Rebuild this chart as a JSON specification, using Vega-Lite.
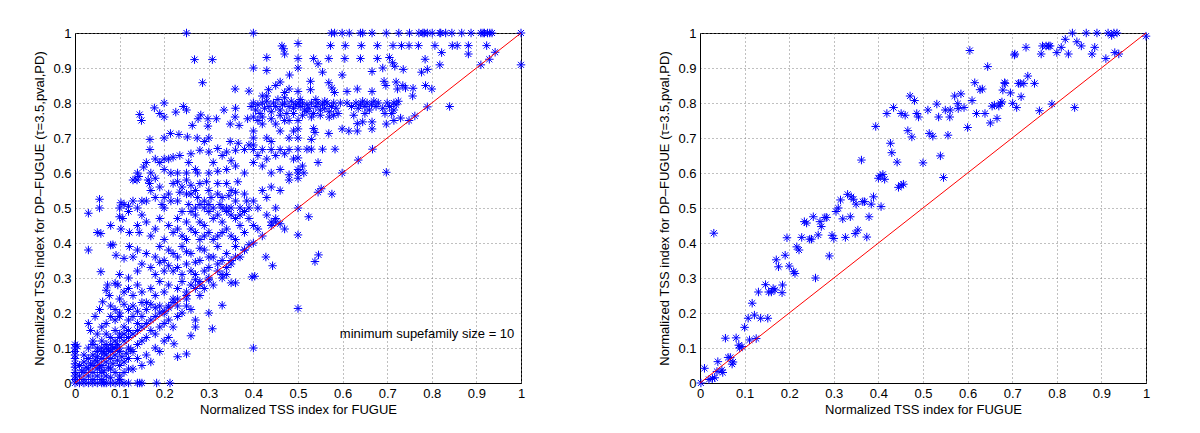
{
"$schema": "https://vega.github.io/schema/vega-lite/v6.json",
"background": "white",
"padding": {"left": 33, "top": 26, "right": 5, "bottom": 5},
"config": {
 "view": {"stroke": "black", "strokeWidth": 1},
 "font": "Liberation Sans",
 "axis": {"labelFont": "Liberation Sans", "titleFont": "Liberation Sans", "labelFontSize": 13, "titleFontSize": 13, "titleFontWeight": "normal", "labelColor": "black", "titleColor": "black", "domainColor": "black", "ticks": false, "gridColor": "#808080", "gridDash": [1, 3], "gridOpacity": 1, "labelFlush": false, "labelOverlap": false, "labelPadding": 4, "tickCount": 12},
 "concat": {"spacing": 130}
},
"datasets": {
 "D": [{"x": 0, "y": 0}, {"x": 1, "y": 1}],
 "T": [{"x": 0.985, "y": 0.14, "label": "minimum supefamily size = 10"}],
 "L": [
{"x":0.25,"y":1},{"x":0.4,"y":1},{"x":0.575,"y":1},{"x":0.582,"y":1},{"x":0.599,"y":1},{"x":0.615,"y":1},{"x":0.64,"y":1},{"x":0.645,"y":1},{"x":0.666,"y":1},{"x":0.698,"y":1},{"x":0.726,"y":1},{"x":0.75,"y":1},{"x":0.771,"y":1},{"x":0.78,"y":1},{"x":0.783,"y":1},{"x":0.79,"y":1},{"x":0.801,"y":1},{"x":0.818,"y":1},{"x":0.82,"y":1},{"x":0.831,"y":1},{"x":0.845,"y":1},{"x":0.867,"y":1},{"x":0.888,"y":1},{"x":0.91,"y":1},{"x":0.915,"y":1},{"x":0.918,"y":1},{"x":0.925,"y":1},{"x":0.93,"y":1},{"x":0.935,"y":1},{"x":1,"y":1},
{"x":0.464,"y":0.963},{"x":0.468,"y":0.955},{"x":0.47,"y":0.94},{"x":0.5,"y":0.97},{"x":0.573,"y":0.964},{"x":0.606,"y":0.964},{"x":0.642,"y":0.964},{"x":0.678,"y":0.964},{"x":0.713,"y":0.964},{"x":0.732,"y":0.964},{"x":0.749,"y":0.964},{"x":0.77,"y":0.964},{"x":0.807,"y":0.964},{"x":0.846,"y":0.964},{"x":0.857,"y":0.964},{"x":0.882,"y":0.964},{"x":0.923,"y":0.964},
{"x":0.268,"y":0.924},{"x":0.308,"y":0.924},{"x":0.43,"y":0.93},{"x":0.5,"y":0.927},{"x":0.535,"y":0.927},{"x":0.569,"y":0.927},{"x":0.605,"y":0.927},{"x":0.64,"y":0.927},{"x":0.678,"y":0.927},{"x":0.705,"y":0.93},{"x":0.712,"y":0.915},{"x":0.717,"y":0.905},{"x":0.785,"y":0.925},{"x":0.822,"y":0.944},{"x":0.882,"y":0.94},{"x":0.942,"y":0.945},{"x":0.929,"y":0.925},
{"x":0.4,"y":0.9},{"x":0.43,"y":0.893},{"x":0.5,"y":0.9},{"x":0.481,"y":0.88},{"x":0.545,"y":0.912},{"x":0.555,"y":0.888},{"x":0.599,"y":0.88},{"x":0.666,"y":0.89},{"x":0.69,"y":0.9},{"x":0.736,"y":0.896},{"x":0.777,"y":0.888},{"x":0.79,"y":0.896},{"x":0.818,"y":0.909},{"x":0.91,"y":0.909},{"x":1,"y":0.909},
{"x":0.286,"y":0.858},{"x":0.359,"y":0.84},{"x":0.39,"y":0.834},{"x":0.434,"y":0.838},{"x":0.48,"y":0.84},{"x":0.5,"y":0.833},{"x":0.528,"y":0.862},{"x":0.528,"y":0.838},{"x":0.569,"y":0.858},{"x":0.576,"y":0.843},{"x":0.582,"y":0.83},{"x":0.61,"y":0.833},{"x":0.633,"y":0.84},{"x":0.666,"y":0.833},{"x":0.693,"y":0.862},{"x":0.697,"y":0.85},{"x":0.72,"y":0.86},{"x":0.723,"y":0.84},{"x":0.735,"y":0.85},{"x":0.741,"y":0.843},{"x":0.758,"y":0.842},{"x":0.757,"y":0.82},{"x":0.786,"y":0.85},{"x":0.8,"y":0.84},{"x":0.45,"y":0.85},{"x":0.46,"y":0.86},{"x":0.47,"y":0.83},{"x":0.42,"y":0.82},
{"x":0.395,"y":0.79},{"x":0.4,"y":0.8},{"x":0.405,"y":0.78},{"x":0.41,"y":0.795},{"x":0.415,"y":0.77},{"x":0.42,"y":0.8},{"x":0.425,"y":0.785},{"x":0.43,"y":0.805},{"x":0.435,"y":0.79},{"x":0.44,"y":0.775},{"x":0.445,"y":0.8},{"x":0.45,"y":0.79},{"x":0.455,"y":0.81},{"x":0.46,"y":0.78},{"x":0.465,"y":0.795},{"x":0.47,"y":0.8},{"x":0.475,"y":0.77},{"x":0.48,"y":0.79},{"x":0.485,"y":0.805},{"x":0.49,"y":0.785},{"x":0.495,"y":0.795},{"x":0.5,"y":0.8},{"x":0.4,"y":0.76},{"x":0.42,"y":0.76},{"x":0.46,"y":0.765},{"x":0.49,"y":0.77},{"x":0.43,"y":0.82},{"x":0.47,"y":0.815},{"x":0.44,"y":0.755},{"x":0.48,"y":0.75},
{"x":0.505,"y":0.79},{"x":0.51,"y":0.8},{"x":0.515,"y":0.78},{"x":0.52,"y":0.795},{"x":0.525,"y":0.785},{"x":0.53,"y":0.8},{"x":0.535,"y":0.77},{"x":0.54,"y":0.79},{"x":0.545,"y":0.8},{"x":0.55,"y":0.78},{"x":0.555,"y":0.795},{"x":0.56,"y":0.785},{"x":0.565,"y":0.8},{"x":0.57,"y":0.775},{"x":0.575,"y":0.79},{"x":0.58,"y":0.8},{"x":0.585,"y":0.785},{"x":0.59,"y":0.77},{"x":0.595,"y":0.8},{"x":0.51,"y":0.765},{"x":0.53,"y":0.76},{"x":0.55,"y":0.765},{"x":0.57,"y":0.76},{"x":0.505,"y":0.81},{"x":0.54,"y":0.81},{"x":0.52,"y":0.775},{"x":0.56,"y":0.805},{"x":0.58,"y":0.765},
{"x":0.61,"y":0.8},{"x":0.62,"y":0.79},{"x":0.63,"y":0.8},{"x":0.635,"y":0.785},{"x":0.64,"y":0.795},{"x":0.645,"y":0.805},{"x":0.65,"y":0.79},{"x":0.655,"y":0.8},{"x":0.66,"y":0.78},{"x":0.665,"y":0.795},{"x":0.67,"y":0.805},{"x":0.675,"y":0.79},{"x":0.68,"y":0.8},{"x":0.69,"y":0.785},{"x":0.7,"y":0.8},{"x":0.705,"y":0.79},{"x":0.715,"y":0.8},{"x":0.72,"y":0.795},{"x":0.725,"y":0.805},{"x":0.695,"y":0.77},{"x":0.71,"y":0.77},{"x":0.715,"y":0.78},{"x":0.65,"y":0.77},{"x":0.625,"y":0.765},
{"x":0.5,"y":0.75},{"x":0.5,"y":0.726},{"x":0.535,"y":0.727},{"x":0.538,"y":0.716},{"x":0.569,"y":0.713},{"x":0.599,"y":0.726},{"x":0.614,"y":0.72},{"x":0.633,"y":0.72},{"x":0.633,"y":0.741},{"x":0.645,"y":0.746},{"x":0.666,"y":0.746},{"x":0.666,"y":0.726},{"x":0.698,"y":0.74},{"x":0.715,"y":0.75},{"x":0.73,"y":0.757},{"x":0.762,"y":0.763},{"x":0.749,"y":0.75},{"x":0.79,"y":0.789},{"x":0.84,"y":0.79},
{"x":0.334,"y":0.78},{"x":0.36,"y":0.785},{"x":0.348,"y":0.74},{"x":0.368,"y":0.736},{"x":0.359,"y":0.76},{"x":0.387,"y":0.755},{"x":0.4,"y":0.72},{"x":0.41,"y":0.75},{"x":0.42,"y":0.74},{"x":0.45,"y":0.74},{"x":0.46,"y":0.72},{"x":0.47,"y":0.75},{"x":0.145,"y":0.767},{"x":0.149,"y":0.75},{"x":0.19,"y":0.77},{"x":0.2,"y":0.76},{"x":0.2,"y":0.8},{"x":0.178,"y":0.786},{"x":0.226,"y":0.774},{"x":0.243,"y":0.79},{"x":0.25,"y":0.78},{"x":0.276,"y":0.755},{"x":0.282,"y":0.766},{"x":0.298,"y":0.755},{"x":0.317,"y":0.755},{"x":0.298,"y":0.734},{"x":0.263,"y":0.736},{"x":0.168,"y":0.696},{"x":0.2,"y":0.7},{"x":0.214,"y":0.713},{"x":0.233,"y":0.71},{"x":0.252,"y":0.703},{"x":0.274,"y":0.7},{"x":0.3,"y":0.7},{"x":0.348,"y":0.69},{"x":0.366,"y":0.685},{"x":0.4,"y":0.7},{"x":0.4,"y":0.68},{"x":0.43,"y":0.7},{"x":0.44,"y":0.69},{"x":0.48,"y":0.7},{"x":0.49,"y":0.72},
{"x":0.168,"y":0.667},{"x":0.154,"y":0.617},{"x":0.2,"y":0.64},{"x":0.21,"y":0.64},{"x":0.19,"y":0.63},{"x":0.22,"y":0.645},{"x":0.235,"y":0.65},{"x":0.26,"y":0.655},{"x":0.28,"y":0.665},{"x":0.29,"y":0.69},{"x":0.3,"y":0.66},{"x":0.32,"y":0.67},{"x":0.33,"y":0.65},{"x":0.34,"y":0.66},{"x":0.36,"y":0.665},{"x":0.38,"y":0.667},{"x":0.4,"y":0.667},{"x":0.42,"y":0.667},{"x":0.44,"y":0.667},{"x":0.46,"y":0.667},{"x":0.48,"y":0.667},{"x":0.39,"y":0.68},{"x":0.41,"y":0.65},{"x":0.43,"y":0.64},{"x":0.45,"y":0.65},{"x":0.47,"y":0.655},{"x":0.49,"y":0.64},{"x":0.35,"y":0.635},{"x":0.36,"y":0.62},{"x":0.4,"y":0.63},{"x":0.42,"y":0.62},{"x":0.44,"y":0.6},{"x":0.46,"y":0.61},{"x":0.48,"y":0.595},{"x":0.5,"y":0.6},{"x":0.3,"y":0.6},{"x":0.27,"y":0.61},{"x":0.25,"y":0.6},{"x":0.23,"y":0.6},{"x":0.215,"y":0.6},{"x":0.2,"y":0.61},{"x":0.18,"y":0.585},{"x":0.143,"y":0.59},{"x":0.139,"y":0.58},{"x":0.164,"y":0.58},{"x":0.167,"y":0.57},{"x":0.31,"y":0.63},{"x":0.32,"y":0.605},{"x":0.34,"y":0.61},{"x":0.38,"y":0.6},{"x":0.275,"y":0.6},{"x":0.255,"y":0.63},
{"x":0.5,"y":0.7},{"x":0.53,"y":0.696},{"x":0.5,"y":0.668},{"x":0.52,"y":0.668},{"x":0.53,"y":0.668},{"x":0.555,"y":0.668},{"x":0.583,"y":0.668},{"x":0.667,"y":0.668},{"x":0.5,"y":0.643},{"x":0.545,"y":0.63},{"x":0.51,"y":0.62},{"x":0.5,"y":0.61},{"x":0.513,"y":0.6},{"x":0.5,"y":0.585},{"x":0.599,"y":0.6},{"x":0.635,"y":0.637},{"x":0.698,"y":0.602},{"x":0.545,"y":0.545},{"x":0.552,"y":0.555},{"x":0.576,"y":0.54},{"x":0.524,"y":0.475},{"x":0.538,"y":0.347},{"x":0.546,"y":0.366},{"x":0.5,"y":0.5},{"x":0.5,"y":0.423},{"x":0.5,"y":0.213},
{"x":0.1,"y":0.5},{"x":0.103,"y":0.515},{"x":0.12,"y":0.505},{"x":0.13,"y":0.52},{"x":0.14,"y":0.5},{"x":0.16,"y":0.52},{"x":0.17,"y":0.55},{"x":0.18,"y":0.53},{"x":0.19,"y":0.56},{"x":0.2,"y":0.5},{"x":0.21,"y":0.54},{"x":0.22,"y":0.57},{"x":0.23,"y":0.52},{"x":0.24,"y":0.56},{"x":0.25,"y":0.58},{"x":0.26,"y":0.54},{"x":0.27,"y":0.5},{"x":0.28,"y":0.57},{"x":0.29,"y":0.52},{"x":0.3,"y":0.55},{"x":0.31,"y":0.5},{"x":0.32,"y":0.57},{"x":0.33,"y":0.53},{"x":0.34,"y":0.5},{"x":0.35,"y":0.55},{"x":0.36,"y":0.52},{"x":0.37,"y":0.5},{"x":0.38,"y":0.54},{"x":0.39,"y":0.5},{"x":0.4,"y":0.52},{"x":0.41,"y":0.5},{"x":0.42,"y":0.55},{"x":0.44,"y":0.56},{"x":0.46,"y":0.55},{"x":0.48,"y":0.58},{"x":0.195,"y":0.51},{"x":0.215,"y":0.52},{"x":0.235,"y":0.545},{"x":0.255,"y":0.51},{"x":0.275,"y":0.53},{"x":0.295,"y":0.575},{"x":0.305,"y":0.53},{"x":0.325,"y":0.51},{"x":0.345,"y":0.535},{"x":0.365,"y":0.575},{"x":0.385,"y":0.52},{"x":0.27,"y":0.55},{"x":0.28,"y":0.51},{"x":0.3,"y":0.51},{"x":0.32,"y":0.54},{"x":0.34,"y":0.57},{"x":0.36,"y":0.545},{"x":0.25,"y":0.54},{"x":0.23,"y":0.575},{"x":0.26,"y":0.565},{"x":0.29,"y":0.5},{"x":0.33,"y":0.5},{"x":0.35,"y":0.5},{"x":0.2,"y":0.53},{"x":0.45,"y":0.5},{"x":0.43,"y":0.53},
{"x":0.103,"y":0.44},{"x":0.107,"y":0.47},{"x":0.08,"y":0.45},{"x":0.122,"y":0.43},{"x":0.14,"y":0.45},{"x":0.144,"y":0.43},{"x":0.15,"y":0.48},{"x":0.16,"y":0.46},{"x":0.17,"y":0.42},{"x":0.18,"y":0.44},{"x":0.19,"y":0.47},{"x":0.2,"y":0.41},{"x":0.21,"y":0.45},{"x":0.22,"y":0.43},{"x":0.23,"y":0.47},{"x":0.24,"y":0.42},{"x":0.25,"y":0.46},{"x":0.26,"y":0.44},{"x":0.27,"y":0.48},{"x":0.28,"y":0.41},{"x":0.29,"y":0.45},{"x":0.3,"y":0.43},{"x":0.31,"y":0.47},{"x":0.32,"y":0.42},{"x":0.33,"y":0.46},{"x":0.34,"y":0.44},{"x":0.35,"y":0.48},{"x":0.36,"y":0.41},{"x":0.37,"y":0.45},{"x":0.38,"y":0.43},{"x":0.39,"y":0.47},{"x":0.4,"y":0.45},{"x":0.42,"y":0.42},{"x":0.44,"y":0.46},{"x":0.46,"y":0.455},{"x":0.47,"y":0.44},{"x":0.24,"y":0.49},{"x":0.26,"y":0.49},{"x":0.28,"y":0.46},{"x":0.3,"y":0.49},{"x":0.32,"y":0.48},{"x":0.34,"y":0.49},{"x":0.36,"y":0.47},{"x":0.38,"y":0.49},{"x":0.29,"y":0.42},{"x":0.31,"y":0.41},{"x":0.27,"y":0.43},{"x":0.25,"y":0.41},{"x":0.23,"y":0.44},{"x":0.35,"y":0.42},{"x":0.33,"y":0.43},{"x":0.37,"y":0.48},{"x":0.43,"y":0.48},{"x":0.41,"y":0.44},{"x":0.45,"y":0.47},
{"x":0.03,"y":0.38},{"x":0.058,"y":0.427},{"x":0.08,"y":0.394},{"x":0.092,"y":0.365},{"x":0.11,"y":0.356},{"x":0.122,"y":0.39},{"x":0.14,"y":0.38},{"x":0.13,"y":0.36},{"x":0.15,"y":0.34},{"x":0.16,"y":0.37},{"x":0.17,"y":0.33},{"x":0.18,"y":0.36},{"x":0.19,"y":0.39},{"x":0.2,"y":0.35},{"x":0.21,"y":0.38},{"x":0.22,"y":0.32},{"x":0.23,"y":0.36},{"x":0.24,"y":0.39},{"x":0.25,"y":0.34},{"x":0.26,"y":0.37},{"x":0.27,"y":0.31},{"x":0.28,"y":0.35},{"x":0.29,"y":0.38},{"x":0.3,"y":0.33},{"x":0.31,"y":0.36},{"x":0.32,"y":0.39},{"x":0.33,"y":0.35},{"x":0.34,"y":0.37},{"x":0.35,"y":0.34},{"x":0.36,"y":0.39},{"x":0.37,"y":0.36},{"x":0.38,"y":0.38},{"x":0.39,"y":0.395},{"x":0.428,"y":0.36},{"x":0.443,"y":0.335},{"x":0.397,"y":0.303},{"x":0.403,"y":0.305},{"x":0.18,"y":0.31},{"x":0.2,"y":0.32},{"x":0.21,"y":0.335},{"x":0.23,"y":0.33},{"x":0.24,"y":0.31},{"x":0.26,"y":0.32},{"x":0.27,"y":0.345},{"x":0.29,"y":0.32},{"x":0.3,"y":0.36},{"x":0.32,"y":0.34},{"x":0.33,"y":0.31},{"x":0.34,"y":0.33},{"x":0.19,"y":0.345},{"x":0.22,"y":0.37},{"x":0.25,"y":0.375},{"x":0.28,"y":0.385},{"x":0.14,"y":0.32},{"x":0.12,"y":0.3},{"x":0.1,"y":0.31},{"x":0.058,"y":0.318},
{"x":0.073,"y":0.28},{"x":0.07,"y":0.265},{"x":0.09,"y":0.285},{"x":0.096,"y":0.28},{"x":0.11,"y":0.26},{"x":0.077,"y":0.25},{"x":0.062,"y":0.232},{"x":0.08,"y":0.22},{"x":0.1,"y":0.24},{"x":0.12,"y":0.27},{"x":0.13,"y":0.25},{"x":0.14,"y":0.28},{"x":0.15,"y":0.26},{"x":0.16,"y":0.23},{"x":0.17,"y":0.27},{"x":0.18,"y":0.25},{"x":0.19,"y":0.29},{"x":0.2,"y":0.26},{"x":0.21,"y":0.28},{"x":0.22,"y":0.24},{"x":0.23,"y":0.27},{"x":0.24,"y":0.29},{"x":0.25,"y":0.26},{"x":0.26,"y":0.28},{"x":0.27,"y":0.295},{"x":0.28,"y":0.29},{"x":0.35,"y":0.286},{"x":0.36,"y":0.286},{"x":0.33,"y":0.222},{"x":0.11,"y":0.225},{"x":0.12,"y":0.21},{"x":0.13,"y":0.22},{"x":0.14,"y":0.205},{"x":0.15,"y":0.23},{"x":0.16,"y":0.21},{"x":0.17,"y":0.225},{"x":0.18,"y":0.215},{"x":0.19,"y":0.22},{"x":0.2,"y":0.205},{"x":0.09,"y":0.21},{"x":0.1,"y":0.2},{"x":0.055,"y":0.21},{"x":0.045,"y":0.19},{"x":0.03,"y":0.17},{"x":0.035,"y":0.15},{"x":0.3,"y":0.295},{"x":0.25,"y":0.24},{"x":0.23,"y":0.22},{"x":0.21,"y":0.215},
{"x":0.1,"y":0.1},{"x":0.11,"y":0.12},{"x":0.12,"y":0.13},{"x":0.13,"y":0.14},{"x":0.14,"y":0.15},{"x":0.15,"y":0.16},{"x":0.16,"y":0.17},{"x":0.17,"y":0.18},{"x":0.18,"y":0.19},{"x":0.19,"y":0.2},{"x":0.2,"y":0.2},{"x":0.21,"y":0.22},{"x":0.22,"y":0.23},{"x":0.23,"y":0.24},{"x":0.25,"y":0.25},{"x":0.27,"y":0.27},{"x":0.28,"y":0.28},{"x":0.3,"y":0.3},{"x":0.32,"y":0.32},{"x":0.35,"y":0.35},{"x":0.36,"y":0.36},{"x":0.38,"y":0.38},{"x":0.4,"y":0.4},{"x":0.44,"y":0.45},{"x":0.45,"y":0.46},
{"x":0.12,"y":0.1},{"x":0.13,"y":0.09},{"x":0.14,"y":0.11},{"x":0.15,"y":0.12},{"x":0.16,"y":0.13},{"x":0.17,"y":0.15},{"x":0.18,"y":0.14},{"x":0.19,"y":0.16},{"x":0.2,"y":0.17},{"x":0.21,"y":0.18},{"x":0.22,"y":0.16},{"x":0.23,"y":0.19},{"x":0.24,"y":0.2},{"x":0.25,"y":0.22},{"x":0.26,"y":0.21},{"x":0.27,"y":0.18},{"x":0.222,"y":0.112},{"x":0.27,"y":0.16},{"x":0.25,"y":0.083},{"x":0.23,"y":0.075},{"x":0.3,"y":0.2},{"x":0.308,"y":0.155},{"x":0.26,"y":0.135},{"x":0.2,"y":0.12},{"x":0.18,"y":0.1},{"x":0.16,"y":0.08},{"x":0.14,"y":0.07},{"x":0.15,"y":0.05},{"x":0.13,"y":0.04},{"x":0.17,"y":0.06},{"x":0.19,"y":0.09},{"x":0.21,"y":0.13},{"x":0.28,"y":0.25},{"x":0.29,"y":0.27},{"x":0.31,"y":0.28},{"x":0.33,"y":0.3},{"x":0.34,"y":0.31},{"x":0.4,"y":0.1},
{"x":0.05,"y":0.1},{"x":0.06,"y":0.12},{"x":0.07,"y":0.14},{"x":0.08,"y":0.13},{"x":0.09,"y":0.15},{"x":0.1,"y":0.14},{"x":0.11,"y":0.16},{"x":0.12,"y":0.18},{"x":0.06,"y":0.16},{"x":0.07,"y":0.17},{"x":0.08,"y":0.19},{"x":0.09,"y":0.18},{"x":0.1,"y":0.19},{"x":0.13,"y":0.19},{"x":0.14,"y":0.17},{"x":0.15,"y":0.19},{"x":0.04,"y":0.12},{"x":0.05,"y":0.14},{"x":0.06,"y":0.09},{"x":0.07,"y":0.1},{"x":0.08,"y":0.11},{"x":0.09,"y":0.12},{"x":0.1,"y":0.13},{"x":0.11,"y":0.14},{"x":0.12,"y":0.15},
{"x":0.01,"y":0.02},{"x":0.02,"y":0.01},{"x":0.02,"y":0.03},{"x":0.03,"y":0.02},{"x":0.03,"y":0.04},{"x":0.04,"y":0.03},{"x":0.04,"y":0.05},{"x":0.05,"y":0.04},{"x":0.05,"y":0.06},{"x":0.06,"y":0.05},{"x":0.06,"y":0.07},{"x":0.07,"y":0.06},{"x":0.07,"y":0.08},{"x":0.08,"y":0.07},{"x":0.08,"y":0.09},{"x":0.09,"y":0.08},{"x":0.09,"y":0.1},{"x":0.1,"y":0.09},{"x":0.01,"y":0.05},{"x":0.02,"y":0.06},{"x":0.03,"y":0.07},{"x":0.04,"y":0.08},{"x":0.05,"y":0.09},{"x":0.06,"y":0.1},{"x":0.07,"y":0.11},{"x":0.02,"y":0.08},{"x":0.03,"y":0.1},{"x":0.04,"y":0.11},{"x":0.05,"y":0.02},{"x":0.06,"y":0.03},{"x":0.07,"y":0.02},{"x":0.08,"y":0.04},{"x":0.09,"y":0.03},{"x":0.1,"y":0.05},{"x":0.11,"y":0.06},{"x":0.12,"y":0.07},{"x":0.1,"y":0.02},{"x":0.11,"y":0.03},{"x":0.12,"y":0.04},{"x":0.04,"y":0.01},{"x":0.06,"y":0.01},{"x":0.08,"y":0.015},{"x":0.1,"y":0.01},{"x":0.05,"y":0.075},{"x":0.065,"y":0.085},{"x":0.075,"y":0.095},{"x":0.085,"y":0.1},{"x":0.095,"y":0.11},{"x":0.035,"y":0.055},{"x":0.045,"y":0.065},{"x":0.055,"y":0.045},{"x":0.065,"y":0.035},{"x":0.075,"y":0.045},{"x":0.085,"y":0.055},{"x":0.095,"y":0.065},{"x":0.105,"y":0.075},{"x":0.115,"y":0.085},{"x":0.125,"y":0.095},{"x":0.015,"y":0.035},{"x":0.025,"y":0.045},
{"x":0,"y":0},{"x":0,"y":0.01},{"x":0,"y":0.02},{"x":0,"y":0.03},{"x":0,"y":0.045},{"x":0,"y":0.055},{"x":0,"y":0.07},{"x":0,"y":0.08},{"x":0,"y":0.09},{"x":0,"y":0.1},{"x":0,"y":0.11},{"x":0.005,"y":0.105},
{"x":0.01,"y":0},{"x":0.02,"y":0},{"x":0.03,"y":0},{"x":0.04,"y":0},{"x":0.05,"y":0},{"x":0.06,"y":0},{"x":0.065,"y":0},{"x":0.07,"y":0},{"x":0.08,"y":0},{"x":0.09,"y":0},{"x":0.1,"y":0},{"x":0.11,"y":0},{"x":0.12,"y":0},{"x":0.14,"y":0},{"x":0.145,"y":0},{"x":0.15,"y":0},{"x":0.183,"y":0},{"x":0.213,"y":0},
{"x":0.03,"y":0.485},{"x":0.055,"y":0.525},{"x":0.055,"y":0.5},{"x":0.05,"y":0.43},{"x":0.085,"y":0.395},{"x":0.1,"y":0.475},{"x":0.11,"y":0.51},{"x":0.12,"y":0.49},{"x":0.13,"y":0.58},{"x":0.14,"y":0.6},{"x":0.15,"y":0.52},{"x":0.16,"y":0.63},{"x":0.17,"y":0.6},{"x":0.18,"y":0.64}
 ],
 "R": [
{"x":0.002,"y":0},{"x":0.01,"y":0.042},{"x":0.02,"y":0.01},{"x":0.028,"y":0.013},{"x":0.033,"y":0.015},{"x":0.031,"y":0.428},{"x":0.04,"y":0.061},{"x":0.038,"y":0.033},{"x":0.049,"y":0.037},{"x":0.051,"y":0.03},{"x":0.057,"y":0.128},{"x":0.063,"y":0.073},{"x":0.068,"y":0.073},{"x":0.072,"y":0.054},{"x":0.074,"y":0.06},{"x":0.081,"y":0.129},{"x":0.087,"y":0.108},{"x":0.089,"y":0.1},{"x":0.094,"y":0.104},{"x":0.1,"y":0.159},{"x":0.108,"y":0.185},{"x":0.117,"y":0.228},{"x":0.111,"y":0.123},{"x":0.122,"y":0.194},{"x":0.126,"y":0.127},{"x":0.131,"y":0.26},{"x":0.136,"y":0.185},{"x":0.147,"y":0.281},{"x":0.152,"y":0.185},{"x":0.154,"y":0.26},{"x":0.16,"y":0.26},{"x":0.164,"y":0.27},{"x":0.168,"y":0.266},{"x":0.171,"y":0.352},{"x":0.176,"y":0.332},{"x":0.184,"y":0.258},{"x":0.185,"y":0.28},{"x":0.191,"y":0.365},{"x":0.195,"y":0.415},{"x":0.2,"y":0.334},{"x":0.21,"y":0.318},{"x":0.213,"y":0.313},{"x":0.217,"y":0.389},{"x":0.222,"y":0.38},{"x":0.228,"y":0.416},{"x":0.234,"y":0.461},{"x":0.239,"y":0.457},{"x":0.246,"y":0.411},{"x":0.25,"y":0.411},{"x":0.254,"y":0.475},{"x":0.259,"y":0.3},{"x":0.265,"y":0.423},{"x":0.269,"y":0.461},{"x":0.272,"y":0.447},{"x":0.28,"y":0.473},{"x":0.284,"y":0.473},{"x":0.29,"y":0.363},{"x":0.296,"y":0.422},{"x":0.3,"y":0.413},{"x":0.305,"y":0.49},{"x":0.31,"y":0.5},{"x":0.315,"y":0.523},{"x":0.32,"y":0.469},{"x":0.326,"y":0.416},{"x":0.331,"y":0.539},{"x":0.337,"y":0.475},{"x":0.339,"y":0.532},{"x":0.344,"y":0.525},{"x":0.348,"y":0.427},{"x":0.354,"y":0.437},{"x":0.35,"y":0.511},{"x":0.362,"y":0.637},{"x":0.365,"y":0.518},{"x":0.369,"y":0.518},{"x":0.374,"y":0.417},{"x":0.379,"y":0.475},{"x":0.384,"y":0.511},{"x":0.389,"y":0.532},{"x":0.394,"y":0.733},{"x":0.4,"y":0.585},{"x":0.404,"y":0.592},{"x":0.41,"y":0.596},{"x":0.414,"y":0.582},{"x":0.406,"y":0.504},{"x":0.419,"y":0.77},{"x":0.427,"y":0.685},{"x":0.43,"y":0.658},{"x":0.434,"y":0.787},{"x":0.442,"y":0.631},{"x":0.445,"y":0.559},{"x":0.451,"y":0.565},{"x":0.456,"y":0.568},{"x":0.451,"y":0.77},{"x":0.46,"y":0.765},{"x":0.466,"y":0.721},{"x":0.471,"y":0.82},{"x":0.475,"y":0.703},{"x":0.481,"y":0.807},{"x":0.486,"y":0.77},{"x":0.49,"y":0.76},{"x":0.5,"y":0.629},{"x":0.511,"y":0.78},{"x":0.514,"y":0.713},{"x":0.522,"y":0.705},{"x":0.531,"y":0.797},{"x":0.535,"y":0.76},{"x":0.539,"y":0.649},{"x":0.546,"y":0.587},{"x":0.55,"y":0.78},{"x":0.561,"y":0.78},{"x":0.556,"y":0.708},{"x":0.56,"y":0.76},{"x":0.571,"y":0.82},{"x":0.578,"y":0.798},{"x":0.579,"y":0.784},{"x":0.585,"y":0.826},{"x":0.592,"y":0.787},{"x":0.6,"y":0.73},{"x":0.605,"y":0.95},{"x":0.61,"y":0.807},{"x":0.616,"y":0.858},{"x":0.62,"y":0.77},{"x":0.628,"y":0.838},{"x":0.633,"y":0.84},{"x":0.639,"y":0.77},{"x":0.645,"y":0.904},{"x":0.651,"y":0.743},{"x":0.655,"y":0.791},{"x":0.66,"y":0.794},{"x":0.666,"y":0.756},{"x":0.67,"y":0.791},{"x":0.674,"y":0.799},{"x":0.677,"y":0.803},{"x":0.679,"y":0.837},{"x":0.684,"y":0.856},{"x":0.696,"y":0.829},{"x":0.701,"y":0.799},{"x":0.705,"y":0.937},{"x":0.71,"y":0.787},{"x":0.714,"y":0.856},{"x":0.72,"y":0.818},{"x":0.683,"y":0.858},{"x":0.706,"y":0.94},{"x":0.718,"y":0.856},{"x":0.726,"y":0.856},{"x":0.731,"y":0.959},{"x":0.735,"y":0.877},{"x":0.75,"y":0.856},{"x":0.761,"y":0.778},{"x":0.765,"y":0.94},{"x":0.768,"y":0.963},{"x":0.776,"y":0.963},{"x":0.782,"y":0.963},{"x":0.785,"y":0.963},{"x":0.789,"y":0.797},{"x":0.8,"y":0.944},{"x":0.81,"y":0.959},{"x":0.819,"y":0.982},{"x":0.826,"y":0.94},{"x":0.835,"y":1},{"x":0.84,"y":0.787},{"x":0.845,"y":0.975},{"x":0.855,"y":0.963},{"x":0.866,"y":1},{"x":0.879,"y":0.94},{"x":0.885,"y":0.959},{"x":0.89,"y":1},{"x":0.91,"y":0.927},{"x":0.915,"y":1},{"x":0.923,"y":0.993},{"x":0.928,"y":1},{"x":0.93,"y":0.944},{"x":0.935,"y":1},{"x":0.939,"y":0.94},{"x":1,"y":0.991}
 ]
},
"hconcat": [
 {
  "width": 446, "height": 350,
  "layer": [
   {"data": {"name": "L"},
    "mark": {"type": "point", "shape": "M0,-1L0,1M-1,0L1,0M-0.71,-0.71L0.71,0.71M-0.71,0.71L0.71,-0.71", "filled": false, "stroke": "#0000ff", "strokeWidth": 1, "size": 72, "opacity": 1},
    "encoding": {
     "x": {"field": "x", "type": "quantitative", "scale": {"domain": [0, 1], "nice": false}, "axis": {"title": "Normalized TSS index for FUGUE", "values": [0,0.1,0.2,0.3,0.4,0.5,0.6,0.7,0.8,0.9,1], "tickCount": 12, "format": "~g", "grid": true, "labelOverlap": false, "titlePadding": 3}},
     "y": {"field": "y", "type": "quantitative", "scale": {"domain": [0, 1], "nice": false}, "axis": {"title": "Normalized TSS index for DP–FUGUE (τ=3.5,pval,PD)", "values": [0,0.1,0.2,0.3,0.4,0.5,0.6,0.7,0.8,0.9,1], "tickCount": 12, "format": "~g", "grid": true, "labelOverlap": false, "labelBound": false, "titlePadding": 6}}
    }},
   {"data": {"name": "D"},
    "mark": {"type": "line", "color": "#ff0000", "strokeWidth": 1},
    "encoding": {"x": {"field": "x", "type": "quantitative"}, "y": {"field": "y", "type": "quantitative"}}},
   {"data": {"name": "T"},
    "mark": {"type": "text", "align": "right", "baseline": "middle", "fontSize": 13, "font": "Liberation Sans", "color": "black"},
    "encoding": {"x": {"field": "x", "type": "quantitative"}, "y": {"field": "y", "type": "quantitative"}, "text": {"field": "label"}}}
  ]
 },
 {
  "width": 446, "height": 350,
  "layer": [
   {"data": {"name": "R"},
    "mark": {"type": "point", "shape": "M0,-1L0,1M-1,0L1,0M-0.71,-0.71L0.71,0.71M-0.71,0.71L0.71,-0.71", "filled": false, "stroke": "#0000ff", "strokeWidth": 1, "size": 72, "opacity": 1},
    "encoding": {
     "x": {"field": "x", "type": "quantitative", "scale": {"domain": [0, 1], "nice": false}, "axis": {"title": "Normalized TSS index for FUGUE", "values": [0,0.1,0.2,0.3,0.4,0.5,0.6,0.7,0.8,0.9,1], "tickCount": 12, "format": "~g", "grid": true, "labelOverlap": false, "titlePadding": 3}},
     "y": {"field": "y", "type": "quantitative", "scale": {"domain": [0, 1], "nice": false}, "axis": {"title": "Normalized TSS index for DP–FUGUE (τ=3.5,pval,PD)", "values": [0,0.1,0.2,0.3,0.4,0.5,0.6,0.7,0.8,0.9,1], "tickCount": 12, "format": "~g", "grid": true, "labelOverlap": false, "labelBound": false, "titlePadding": 6}}
    }},
   {"data": {"name": "D"},
    "mark": {"type": "line", "color": "#ff0000", "strokeWidth": 1},
    "encoding": {"x": {"field": "x", "type": "quantitative"}, "y": {"field": "y", "type": "quantitative"}}}
  ]
 }
]
}
